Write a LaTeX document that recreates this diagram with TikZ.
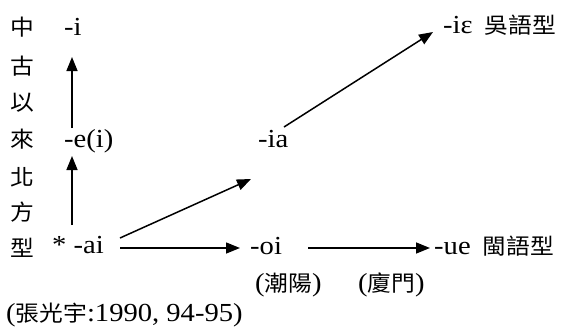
\documentclass[tikz,border=0pt]{standalone}
\usepackage{fontspec}
\setmainfont[FakeStretch=1.1]{Liberation Serif}
\newfontfamily\cjk[FakeStretch=1.08]{Noto Sans CJK TC}
\usetikzlibrary{arrows.meta}
\begin{document}
\begin{tikzpicture}[x=1pt,y=-1pt,
  lat/.style={font=\fontsize{26}{30}\selectfont, inner sep=0pt, anchor=base west},
  cj/.style={font=\cjk\fontsize{22}{26}\selectfont, inner sep=0pt},
  arr/.style={-{Triangle[length=14pt,width=11pt]}, line width=1.5pt}]
\useasboundingbox (0,0) rectangle (574,330);
% vertical label column
\node[cj] (c1) at (22,27) {中};
\node[cj] (c2) at (22,66) {古};
\node[cj] (c3) at (22,103) {以};
\node[cj] (c4) at (22,139) {來};
\node[cj] (c5) at (22,177) {北};
\node[cj] (c6) at (22,212) {方};
\node[cj] (c7) at (22,248) {型};
% forms
\node[lat] (i) at (64,35) {-i};
\node[lat] (e) at (64,147) {-e(i)};
\node[lat] (ai) at (52,253) {* -ai};
\node[lat] (ia) at (258,147) {-ia};
\node[lat] (ie) at (443,33) {-iɛ\hspace{12pt}{\cjk\fontsize{22}{26}\selectfont 吳語型}};
\node[lat] (oi) at (250,254) {-oi};
\node[lat] (ue) at (434,254) {-ue\hspace{12pt}{\cjk\fontsize{22}{26}\selectfont 閩語型}};
\node[lat] (p1) at (255,291) {({\cjk\fontsize{22}{26}\selectfont 潮陽})};
\node[lat] (p2) at (358,291) {({\cjk\fontsize{22}{26}\selectfont 廈門})};
\node[lat] (src) at (6,321) {({\cjk\fontsize{22}{26}\selectfont 張光宇}:1990, 94-95)};
% connectors
\coordinate (eTop) at (72,128);
\coordinate (iBot) at (72,57);
\coordinate (aiTop) at (72,225);
\coordinate (eBot) at (72,156);
\coordinate (aiR) at (120,238);
\coordinate (iaL) at (251,179);
\coordinate (iaR) at (284,127);
\coordinate (ieL) at (433,32);
\draw[arr] (eTop) -- (iBot);
\draw[arr] (aiTop) -- (eBot);
\draw[arr] (aiR) -- (iaL);
\draw[arr] (ai.east |- 0,248) ++(16,0) -- ([xshift=-10pt]oi.west |- 0,248);
\draw[arr] (oi.east |- 0,248) ++(26,0) -- ([xshift=-4pt]ue.west |- 0,248);
\draw[arr] (iaR) -- (ieL);
\end{tikzpicture}
\end{document}
